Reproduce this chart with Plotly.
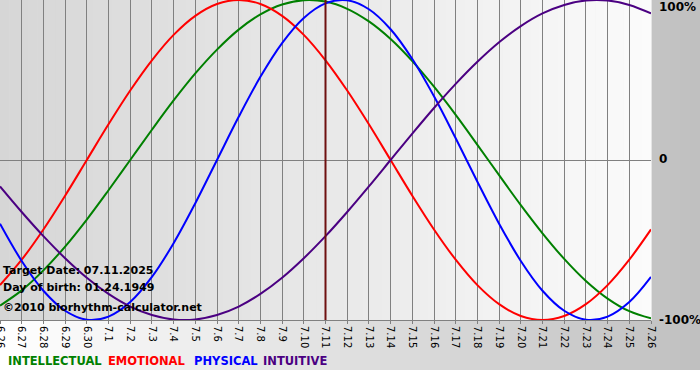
import plotly.graph_objects as go

# ---------------- data ----------------
dates = ["6.26", "6.27", "6.28", "6.29", "6.30", "7.1", "7.2", "7.3", "7.4", "7.5",
         "7.6", "7.7", "7.8", "7.9", "7.10", "7.11", "7.12", "7.13", "7.14", "7.15",
         "7.16", "7.17", "7.18", "7.19", "7.20", "7.21", "7.22", "7.23", "7.24", "7.25", "7.26"]

intellectual = [-0.910, -0.815, -0.690, -0.541, -0.372, -0.189, 0.000, 0.189, 0.372, 0.541,
                0.690, 0.815, 0.910, 0.972, 0.999, 0.990, 0.945, 0.866, 0.756, 0.618,
                0.458, 0.282, 0.095, -0.095, -0.282, -0.458, -0.618, -0.756, -0.866, -0.945, -0.990]

emotional = [-0.782, -0.623, -0.434, -0.223, 0.000, 0.223, 0.434, 0.623, 0.782, 0.901,
             0.975, 1.000, 0.975, 0.901, 0.782, 0.623, 0.434, 0.223, 0.000, -0.223,
             -0.434, -0.623, -0.782, -0.901, -0.975, -1.000, -0.975, -0.901, -0.782, -0.623, -0.434]

physical = [-0.398, -0.631, -0.817, -0.942, -0.998, -0.979, -0.888, -0.731, -0.520, -0.270,
            0.000, 0.270, 0.520, 0.731, 0.888, 0.979, 0.998, 0.942, 0.817, 0.631,
            0.398, 0.136, -0.136, -0.398, -0.631, -0.817, -0.942, -0.998, -0.979, -0.888, -0.731]

intuitive = [-0.165, -0.325, -0.476, -0.614, -0.736, -0.837, -0.916, -0.969, -0.997, -0.997,
             -0.969, -0.916, -0.837, -0.736, -0.614, -0.476, -0.325, -0.165, 0.000, 0.165,
             0.325, 0.476, 0.614, 0.736, 0.837, 0.916, 0.969, 0.997, 0.997, 0.969, 0.916]

series_names = ["INTELLECTUAL", "EMOTIONAL", "PHYSICAL", "INTUITIVE"]
target_date = "7.11"
y_tick_vals = [1, 0, -1]
y_tick_text = ["100%", "0", "-100%"]
info_lines = ["Target Date: 07.11.2025", "Day of birth: 01.24.1949", "©2010 biorhythm-calculator.net"]

# ---------------- styles ----------------
W, H = 700, 380
PL, PR, PT, PB = 0, 49, 0, 60
PW, PH = W - PL - PR, H - PT - PB
colors = ["#008000", "#ff0000", "#0000ff", "#4b0082"]
GRID = "#808080"
FONT = "DejaVu Sans"


def px_x(p):
    return (p - PL) / PW


def px_y(p):
    return 1 - (p - PT) / PH


def hex2rgb(h):
    h = h.lstrip("#")
    return tuple(int(h[i:i + 2], 16) for i in (0, 2, 4))


def gradient(x0, x1, y0, y1, c0, c1, n):
    a, b = hex2rgb(c0), hex2rgb(c1)
    out = []
    step = (x1 - x0) / n
    for i in range(n):
        t = (i + 0.5) / n
        c = tuple(round(a[k] + (b[k] - a[k]) * t) for k in range(3))
        out.append(dict(type="rect", xref="paper", yref="paper", layer="below",
                        x0=px_x(x0 + i * step), x1=px_x(x0 + (i + 1) * step + 0.6),
                        y0=px_y(y1), y1=px_y(y0),
                        line=dict(width=0), fillcolor="rgb(%d,%d,%d)" % c))
    return out


shapes = []
shapes += gradient(0, W, 0, 370, "#ffffff", "#c0c0c0", 70)
shapes += gradient(PL, PL + PW, PT, PT + PH, "#d6d6d6", "#fbfbfb", 70)
target_pos = dates.index(target_date)
shapes.append(dict(type="line", xref="x", yref="paper", x0=target_pos, x1=target_pos,
                   y0=0, y1=1, layer="above", opacity=1,
                   line=dict(color="#6e1010", width=2)))

fig = go.Figure()
for name, vals, col in zip(series_names, [intellectual, emotional, physical, intuitive], colors):
    fig.add_trace(go.Scatter(x=dates, y=vals, mode="lines", name=name,
                             line=dict(color=col, width=2, shape="spline"),
                             hoverinfo="skip"))

annotations = []
# right side percentage labels
yshifts = [-7, 1, 0]
for v, t, ys in zip(y_tick_vals, y_tick_text, yshifts):
    annotations.append(dict(xref="paper", yref="y", x=1, y=v, xshift=6, yshift=ys,
                            xanchor="left", yanchor="middle", showarrow=False, text=t,
                            font=dict(family=FONT, size=12, color="#000000", weight="bold")))
# info text in plot
info_y = [270, 287, 307]
for t, py in zip(info_lines, info_y):
    annotations.append(dict(xref="paper", yref="paper", x=px_x(1), y=px_y(py),
                            xanchor="left", yanchor="middle", showarrow=False, text=t,
                            font=dict(family=FONT, size=11, color="#000000", weight="bold")))
# legend
legend_x = [6, 106, 192, 261]
for name, col, lx in zip(series_names, colors, legend_x):
    annotations.append(dict(xref="paper", yref="paper", x=px_x(lx), y=px_y(361),
                            xanchor="left", yanchor="middle", showarrow=False, text=name,
                            font=dict(family=FONT, size=11.5, color=col, weight="bold")))

fig.update_layout(
    width=W, height=H,
    margin=dict(l=PL, r=PR, t=PT, b=PB, pad=0, autoexpand=False),
    paper_bgcolor="#ffffff",
    plot_bgcolor="rgba(0,0,0,0)",
    showlegend=False,
    shapes=shapes,
    annotations=annotations,
    xaxis=dict(type="category", range=[0, len(dates) - 1], tickmode="linear", dtick=1,
               showgrid=True, gridcolor=GRID, gridwidth=1, automargin=False,
               showline=True, linecolor=GRID, linewidth=1,
               ticks="outside", ticklen=3, tickcolor=GRID, tickangle=90,
               tickfont=dict(family=FONT, size=10, color="#000000"),
               zeroline=False, fixedrange=True),
    yaxis=dict(range=[-1, 1], showgrid=False, zeroline=True, zerolinecolor=GRID,
               zerolinewidth=1, showticklabels=False, ticks="", fixedrange=True,
               automargin=False),
)

fig.write_html("out.html", config={"displayModeBar": False},
               post_script="document.body.style.margin='0';document.body.style.overflow='hidden';")
